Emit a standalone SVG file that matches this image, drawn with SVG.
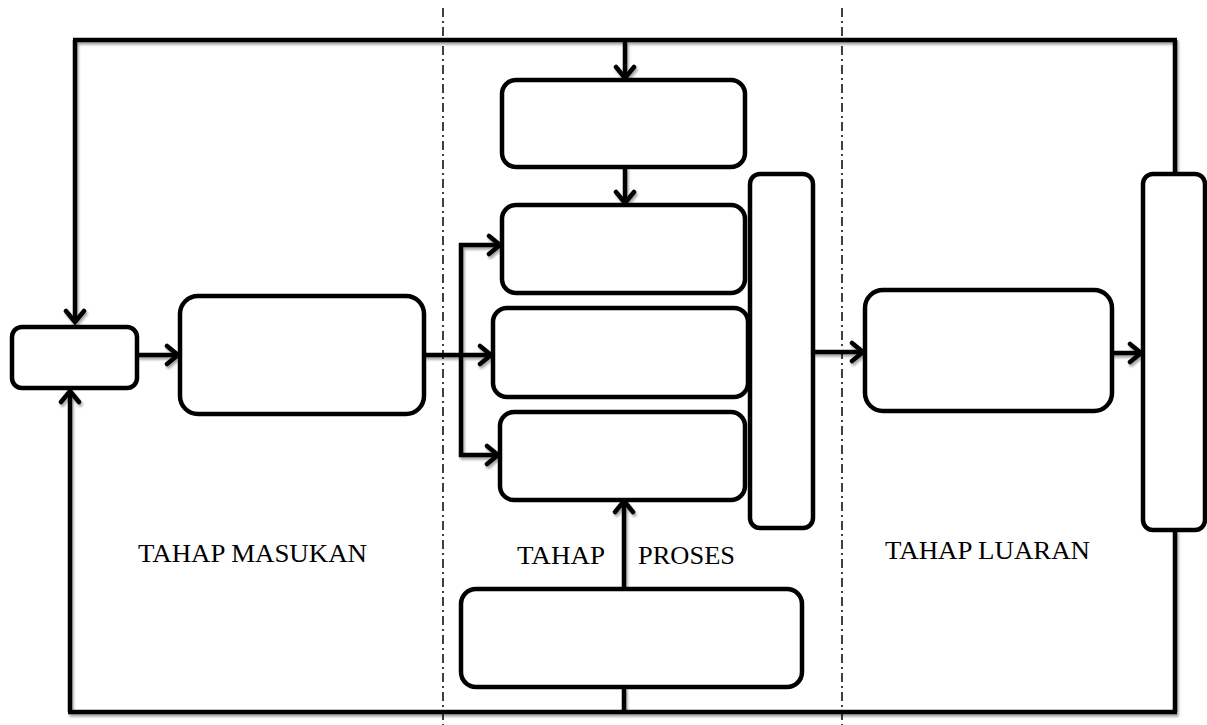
<svg xmlns="http://www.w3.org/2000/svg" width="1207" height="725" viewBox="0 0 1207 725">
  <style>
    .node { fill: #fff; stroke: #000; stroke-width: 4.5; }
    .wire { fill: none; stroke: #000; stroke-width: 4.5; stroke-linejoin: miter; }
    .arrow { marker-end: url(#head); }
    .divider { fill: none; stroke: #000; stroke-width: 1.5; stroke-dasharray: 9 4 2 4; }
    .stage { font-family: "Liberation Serif", "Times New Roman", serif; font-size: 26px; fill: #000; }
  </style>
  <defs>
    <marker id="head" viewBox="-15 -12 18 24" refX="0" refY="0" markerWidth="18" markerHeight="24" markerUnits="userSpaceOnUse" orient="auto">
      <path d="M-11,-9 L0,0 L-11,9" fill="none" stroke="#000" stroke-width="4.5" stroke-linecap="round" stroke-linejoin="miter"/>
    </marker>
    <filter id="shade" x="-5%" y="-5%" width="110%" height="110%">
      <feDropShadow dx="1.5" dy="2.5" stdDeviation="1" flood-color="#000" flood-opacity="0.35"/>
    </filter>
  </defs>

  <rect width="1207" height="725" fill="#fff"/>

  <!-- stage dividers -->
  <g id="dividers">
    <line class="divider" x1="443" y1="8" x2="443" y2="725"/>
    <line class="divider" x1="842" y1="8" x2="842" y2="725"/>
  </g>

  <!-- connectors -->
  <g id="connectors" filter="url(#shade)">
    <!-- feedback loop along the top -->
    <path class="wire" d="M73,40 H1177"/>
    <path class="wire arrow" d="M75,40 V322"/>
    <path class="wire arrow" d="M625,40 V78"/>
    <path class="wire" d="M1175,40 V174"/>
    <!-- feedback loop along the bottom -->
    <path class="wire" d="M68,712 H1177"/>
    <path class="wire" d="M1175,530 V712"/>
    <path class="wire arrow" d="M70,712 V391"/>
    <path class="wire" d="M624,687 V712"/>
    <path class="wire arrow" d="M624,589 V501"/>
    <!-- main flow -->
    <path class="wire arrow" d="M137,355 H178"/>
    <path class="wire arrow" d="M424,355 H491"/>
    <path class="wire" d="M461,243 V457"/>
    <path class="wire arrow" d="M459,245 H500"/>
    <path class="wire arrow" d="M459,455 H498"/>
    <path class="wire arrow" d="M625,167 V203"/>
    <path class="wire arrow" d="M813,352 H863"/>
    <path class="wire arrow" d="M1112,353 H1141"/>
  </g>

  <!-- input stage -->
  <g id="node-source">
    <rect class="node" x="12" y="327" width="125" height="61" rx="10"/>
  </g>
  <g id="node-input">
    <rect class="node" x="180" y="296" width="244" height="118" rx="18"/>
  </g>

  <!-- process stage -->
  <g id="node-process-top">
    <rect class="node" x="502" y="80" width="243" height="87" rx="14"/>
  </g>
  <g id="node-process-a">
    <rect class="node" x="502" y="205" width="243" height="88" rx="14"/>
  </g>
  <g id="node-process-b">
    <rect class="node" x="493" y="308" width="255" height="89" rx="14"/>
  </g>
  <g id="node-process-c">
    <rect class="node" x="500" y="412" width="245" height="88" rx="14"/>
  </g>
  <g id="node-process-support">
    <rect class="node" x="461" y="589" width="341" height="98" rx="15"/>
  </g>
  <g id="node-process-merge">
    <rect class="node" x="750" y="174" width="63" height="354" rx="10"/>
  </g>

  <!-- output stage -->
  <g id="node-output">
    <rect class="node" x="865" y="290" width="247" height="121" rx="18"/>
  </g>
  <g id="node-result">
    <rect class="node" x="1143" y="174" width="62" height="356" rx="10"/>
  </g>

  <!-- stage labels -->
  <g id="labels">
    <text class="stage" x="138" y="562" textLength="229" lengthAdjust="spacingAndGlyphs">TAHAP MASUKAN</text>
    <text class="stage" x="517" y="564" textLength="88" lengthAdjust="spacingAndGlyphs">TAHAP</text>
    <text class="stage" x="638" y="564" textLength="97" lengthAdjust="spacingAndGlyphs">PROSES</text>
    <text class="stage" x="885" y="559" textLength="205" lengthAdjust="spacingAndGlyphs">TAHAP LUARAN</text>
  </g>
</svg>
